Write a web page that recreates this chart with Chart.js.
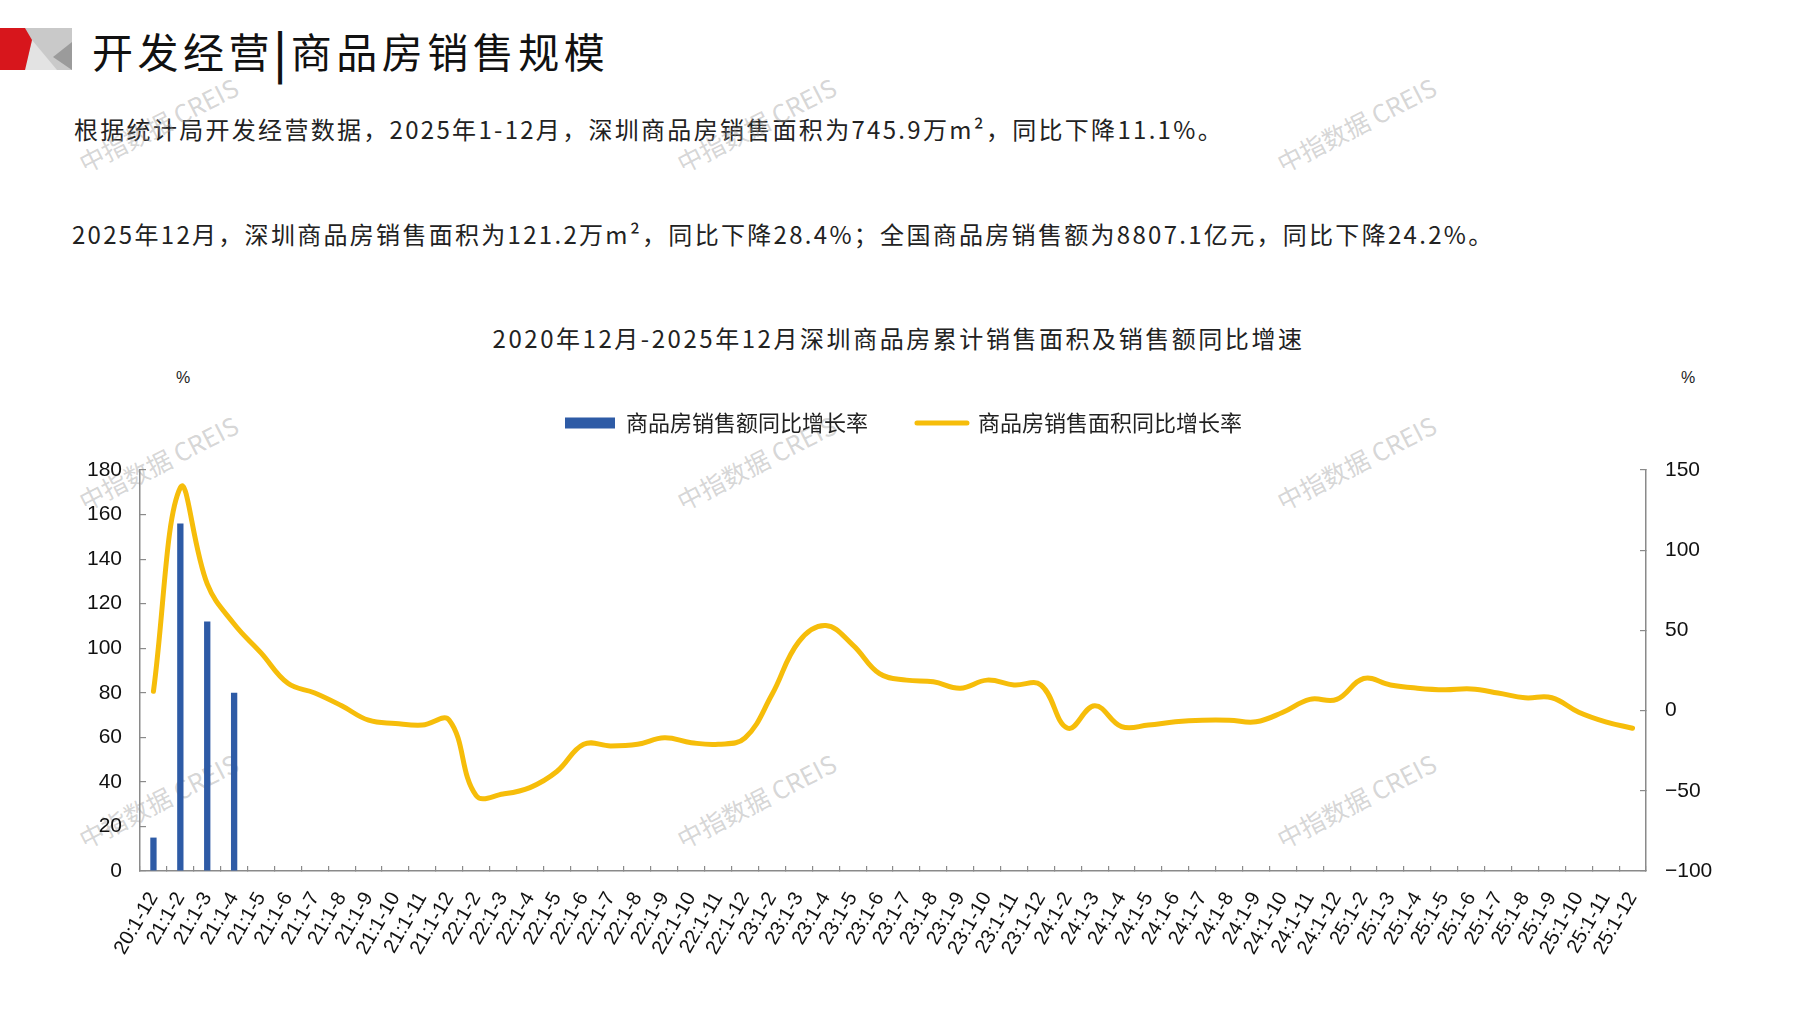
<!DOCTYPE html>
<html lang="zh-CN">
<head>
<meta charset="utf-8">
<title>开发经营|商品房销售规模</title>
<script src="https://cdn.jsdelivr.net/npm/chart.js@4.4.1/dist/chart.umd.min.js"></script>
<style>
  html, body { margin: 0; padding: 0; background: #fff; }
  body {
    width: 1797px; height: 1010px; position: relative; overflow: hidden;
    font-family: "Noto Sans CJK SC", "Noto Sans", sans-serif; color: #1f1f1f;
  }
  .logo { position: absolute; left: 0; top: 0; }
  .headline {
    position: absolute; left: 92px; top: 22px; font-size: 41px; line-height: 56px;
    letter-spacing: 4.5px; color: #111; white-space: nowrap;
  }
  .headline .bar { font-weight: 700; display: inline-block; transform: scaleY(1.15); }
  .para {
    position: absolute; font-size: 24px; line-height: 32px; letter-spacing: 2.3px;
    white-space: nowrap; color: #222;
  }
  .chart-title {
    position: absolute; left: 0; width: 1797px; top: 322px; text-align: center;
    font-size: 24px; line-height: 32px; letter-spacing: 2.55px; color: #222; white-space: nowrap;
  }
  .unit { position: absolute; font-family: "Liberation Sans", sans-serif; font-size: 16px; color: #222; transform: translate(-50%, -50%); }
  .wm {
    position: absolute; font-size: 25px; color: rgba(150, 150, 150, 0.40); white-space: nowrap;
    transform: translate(-50%, -50%) rotate(-27deg);
  }
  #wrap { position: absolute; left: 0; top: 363px; width: 1797px; height: 637px; z-index: 2; }
</style>
</head>
<body>
<svg class="logo" width="80" height="80" viewBox="0 0 80 80">
  <polygon points="25,28 72,28 72,70 25,70" fill="#c9c9c9"/>
  <polygon points="32,40 25,70 57,70" fill="#e3e3e3"/>
  <polygon points="72,42 72,70 53,57" fill="#9b9b9b"/>
  <polygon points="0,28 25,28 32,40 25,70 0,70" fill="#d7161c"/>
</svg>
<div class="headline">开发经营<span class="bar">|</span>商品房销售规模</div>
<div class="para" style="left:74px; top:113px;">根据统计局开发经营数据，2025年1-12月，深圳商品房销售面积为745.9万m²，同比下降11.1%。</div>
<div class="para" style="left:72px; top:218px;">2025年12月，深圳商品房销售面积为121.2万m²，同比下降28.4%；全国商品房销售额为8807.1亿元，同比下降24.2%。</div>
<div class="chart-title">2020年12月-2025年12月深圳商品房累计销售面积及销售额同比增速</div>
<div class="unit" style="left:183px; top:378px;">%</div>
<div class="unit" style="left:1688px; top:378px;">%</div>

<div class="wm" style="left:158px; top:124px;">中指数据 CREIS</div>
<div class="wm" style="left:756px; top:124px;">中指数据 CREIS</div>
<div class="wm" style="left:1356px; top:124px;">中指数据 CREIS</div>
<div class="wm" style="left:158px; top:462px;">中指数据 CREIS</div>
<div class="wm" style="left:756px; top:462px;">中指数据 CREIS</div>
<div class="wm" style="left:1356px; top:462px;">中指数据 CREIS</div>
<div class="wm" style="left:158px; top:800px;">中指数据 CREIS</div>
<div class="wm" style="left:756px; top:800px;">中指数据 CREIS</div>
<div class="wm" style="left:1356px; top:800px;">中指数据 CREIS</div>

<div id="wrap"><canvas id="chart"></canvas></div>

<script>
// Cumulative periods: year:months
const categories = [
  '20:1-12',
  '21:1-2', '21:1-3', '21:1-4', '21:1-5', '21:1-6', '21:1-7', '21:1-8', '21:1-9', '21:1-10', '21:1-11', '21:1-12',
  '22:1-2', '22:1-3', '22:1-4', '22:1-5', '22:1-6', '22:1-7', '22:1-8', '22:1-9', '22:1-10', '22:1-11', '22:1-12',
  '23:1-2', '23:1-3', '23:1-4', '23:1-5', '23:1-6', '23:1-7', '23:1-8', '23:1-9', '23:1-10', '23:1-11', '23:1-12',
  '24:1-2', '24:1-3', '24:1-4', '24:1-5', '24:1-6', '24:1-7', '24:1-8', '24:1-9', '24:1-10', '24:1-11', '24:1-12',
  '25:1-2', '25:1-3', '25:1-4', '25:1-5', '25:1-6', '25:1-7', '25:1-8', '25:1-9', '25:1-10', '25:1-11', '25:1-12'
];

// Sales amount YoY growth (%), left axis
const salesAmountYoY = [15, 156, 112, 80];

// Sales floor area YoY growth (%), right axis
const salesAreaYoY = [
  12,
  139, 79, 54, 36, 17, 11, 3, -6, -8, -9, -6,
  -53, -52, -48, -38, -21, -22, -21, -17, -20, -21, -17,
  10, 43, 53, 41, 23, 19, 18, 14, 19, 16, 16,
  -11, 3, -10, -9, -7, -6, -6, -7, -1, 7, 7,
  20, 16, 14, 13, 13.5, 11, 8, 8, -1, -7, -11
];

// Axis tick values
const leftAxisTicks = [0, 20, 40, 60, 80, 100, 120, 140, 160, 180];
const rightAxisTicks = [-100, -50, 0, 50, 100, 150];

const seriesNames = ['商品房销售额同比增长率', '商品房销售面积同比增长率'];

const BLUE = '#2E5BA6';
const GOLD = '#F6BD0A';
const AXIS = '#8a8a8a';
const tickFont = { family: 'Liberation Sans, Arial, sans-serif', size: 21 };

const minusSign = v => String(v).replace('-', '\u2212');

new Chart(document.getElementById('chart'), {
  data: {
    labels: categories,
    datasets: [
      {
        type: 'bar',
        label: seriesNames[0],
        data: salesAmountYoY,
        backgroundColor: BLUE,
        borderWidth: 0,
        barPercentage: 0.235,
        categoryPercentage: 1,
        yAxisID: 'yLeft'
      },
      {
        type: 'line',
        label: seriesNames[1],
        data: salesAreaYoY,
        borderColor: GOLD,
        backgroundColor: GOLD,
        borderWidth: 5,
        borderCapStyle: 'round',
        borderJoinStyle: 'round',
        pointRadius: 0,
        pointHoverRadius: 0,
        pointStyle: 'line',
        tension: 0.4,
        fill: false,
        yAxisID: 'yRight'
      }
    ]
  },
  options: {
    responsive: true,
    maintainAspectRatio: false,
    animation: false,
    layout: { padding: { top: 0, left: 10, right: 0, bottom: 0 } },
    plugins: {
      tooltip: { enabled: false },
      title: { display: false },
      // empty spacer box between the legend and the plot area
      subtitle: {
        display: true,
        text: '',
        position: 'top',
        weight: 500,
        font: { size: 10, lineHeight: 1.2 },
        padding: { top: 7, bottom: 7 }
      },
      legend: {
        display: true,
        position: 'top',
        align: 'center',
        weight: 1000,
        labels: {
          usePointStyle: true,
          pointStyleWidth: 50,
          boxHeight: 11,
          padding: 49,
          color: '#222',
          font: { family: 'Noto Sans CJK SC, sans-serif', size: 22 },
          generateLabels(chart) {
            const items = Chart.defaults.plugins.legend.labels.generateLabels(chart);
            items.forEach(it => {
              const ds = chart.data.datasets[it.datasetIndex];
              if (ds.type === 'line') {
                it.pointStyle = 'line';
                it.lineWidth = 5;
                it.strokeStyle = ds.borderColor;
                it.lineCap = 'round';
              } else {
                it.pointStyle = 'rect';
                it.lineWidth = 0;
                it.fillStyle = ds.backgroundColor;
              }
            });
            return items;
          }
        }
      }
    },
    scales: {
      x: {
        type: 'category',
        offset: true,
        grid: {
          display: true, drawOnChartArea: false, drawTicks: true,
          tickLength: -5, color: AXIS, lineWidth: 1.2, offset: true
        },
        border: { display: true, color: AXIS, width: 1.5 },
        ticks: {
          autoSkip: false, maxRotation: 60, minRotation: 60, padding: 22,
          color: '#111', font: { family: 'Liberation Sans, Arial, sans-serif', size: 20 }
        },
        afterFit(scale) { scale.height = 129; }
      },
      yLeft: {
        type: 'linear',
        position: 'left',
        min: leftAxisTicks[0],
        max: leftAxisTicks[leftAxisTicks.length - 1],
        grid: { drawOnChartArea: false, drawTicks: true, tickLength: -6, color: AXIS, lineWidth: 1.2 },
        border: { display: true, color: AXIS, width: 1.5 },
        ticks: {
          stepSize: leftAxisTicks[1] - leftAxisTicks[0],
          padding: 24, color: '#111', font: tickFont
        },
        afterFit(scale) { scale.width = 130; }
      },
      yRight: {
        type: 'linear',
        position: 'right',
        min: rightAxisTicks[0],
        max: rightAxisTicks[rightAxisTicks.length - 1],
        grid: { drawOnChartArea: false, drawTicks: true, tickLength: -6, color: AXIS, lineWidth: 1.2 },
        border: { display: true, color: AXIS, width: 1.5 },
        ticks: {
          stepSize: rightAxisTicks[1] - rightAxisTicks[0],
          padding: 25, color: '#111', font: tickFont,
          callback: v => minusSign(v)
        },
        afterFit(scale) { scale.width = 151; }
      }
    }
  }
});
</script>
</body>
</html>
